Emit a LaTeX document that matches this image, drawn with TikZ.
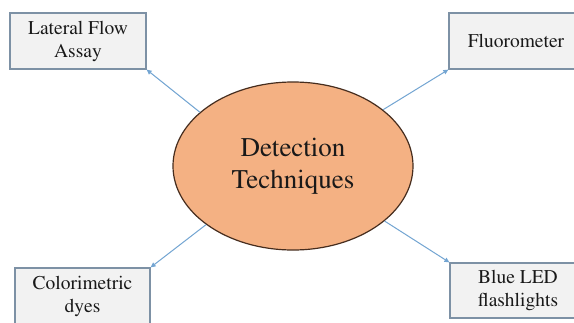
\documentclass[tikz,border=0pt]{standalone}
\usepackage[T1]{fontenc}
\usepackage{times}
\usetikzlibrary{shapes.geometric,arrows.meta}
\definecolor{boxfill}{RGB}{242,242,242}
\definecolor{boxline}{RGB}{125,145,165}
\definecolor{linkblue}{RGB}{115,165,210}
\definecolor{ovalfill}{RGB}{244,177,131}
\definecolor{ovalline}{RGB}{70,45,30}
\begin{document}
\begin{tikzpicture}[x=1pt,y=-1pt,
  techbox/.style={draw=boxline,line width=1.2pt,fill=boxfill,rectangle,
    inner sep=0pt,align=center,text=black!90,
    font=\fontsize{19.5}{23}\selectfont},
  link/.style={draw=linkblue,line width=1pt,
    -{Triangle[length=5pt,width=4.5pt]}}]
  \clip (0,0) rectangle (574,322);
  \fill[white] (0,0) rectangle (574,322);

  % central oval
  \node[ellipse,draw=ovalline,line width=1.2pt,fill=ovalfill,
        minimum width=240pt,minimum height=168pt,inner sep=0pt,
        align=center,text=black!90,font=\fontsize{27}{32}\selectfont]
        (det) at (293,166) {Detection\\Techniques};

  % technique boxes
  \node[techbox,minimum width=136pt,minimum height=56pt] (lfa) at (78,41)
        {Lateral Flow\\Assay};
  \node[techbox,minimum width=134pt,minimum height=56pt] (flu) at (516,41)
        {Fluorometer};
  \node[techbox,minimum width=135pt,minimum height=56pt] (col) at (82.5,296)
        {Colorimetric\\dyes};
  \node[techbox,minimum width=136pt,minimum height=55pt] (led) at (518,290.5)
        {Blue LED\\flashlights};

  % connectors
  \draw[link] (det.150) -- (lfa.south east);
  \draw[link] (det.32) -- (flu.south west);
  \draw[link] (det.214) -- (col.north east);
  \draw[link] (det.-31) -- (led.north west);
\end{tikzpicture}
\end{document}
